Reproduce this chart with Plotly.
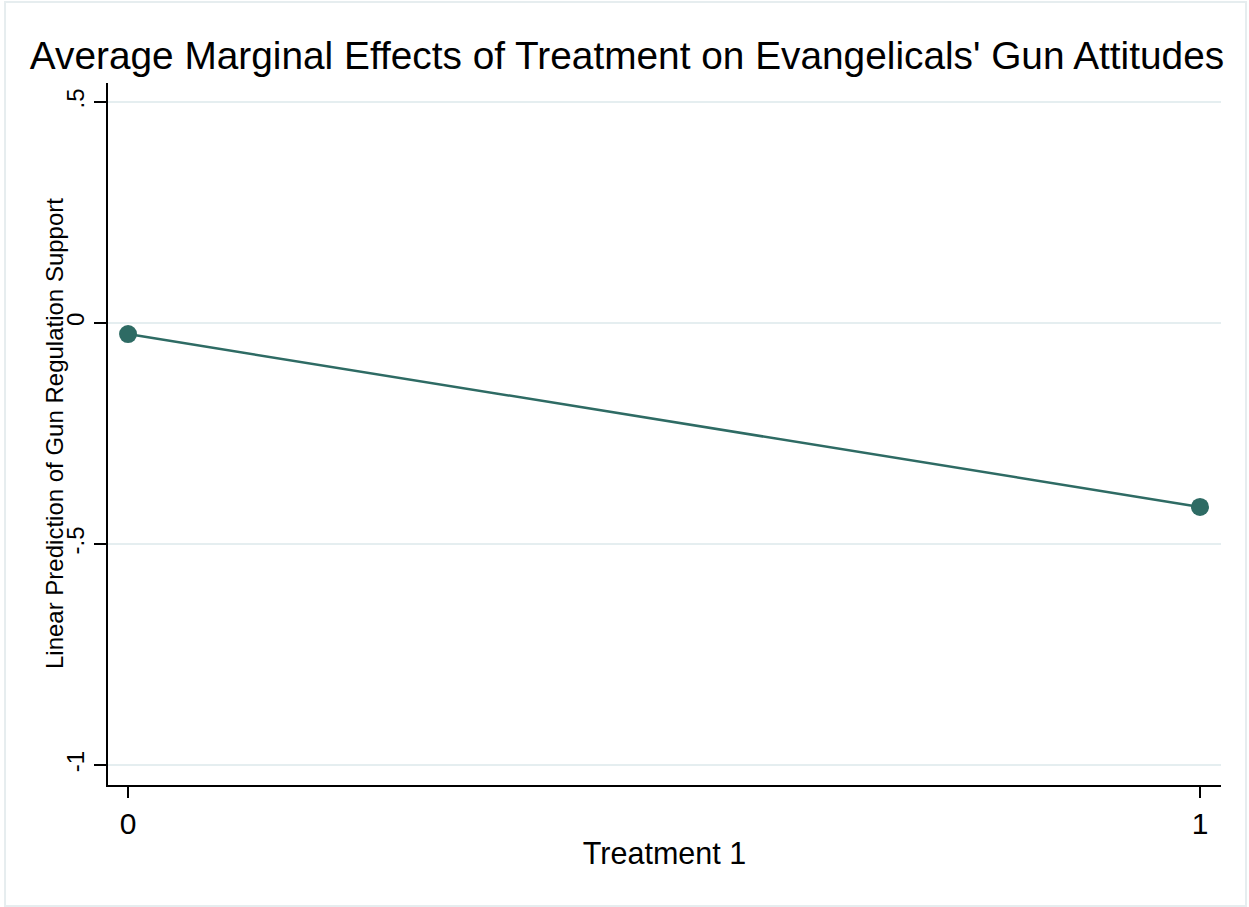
import plotly.graph_objects as go

# Predictive margins by treatment group
treatment = [0, 1]
prediction = [-0.025, -0.416]

y_ticks = [0.5, 0, -0.5, -1]
y_tick_text = [".5", "0", "-.5", "-1"]
x_ticks = [0, 1]
x_tick_text = ["0", "1"]

teal = "#2e6b64"
grid = "#e5eef0"
font_family = "Liberation Sans, Arial, Helvetica, sans-serif"

fig = go.Figure()
fig.add_trace(go.Scatter(
    x=treatment, y=prediction,
    mode="lines+markers",
    line=dict(color=teal, width=2.5),
    marker=dict(color=teal, size=18),
    showlegend=False,
))

fig.update_layout(
    width=1249, height=907,
    margin=dict(l=108, r=28, t=83, b=122),
    paper_bgcolor="white", plot_bgcolor="white",
    font=dict(family=font_family, color="black"),
    title=dict(
        text="Average Marginal Effects of Treatment on Evangelicals' Gun Attitudes",
        x=0.502, xref="container", xanchor="center",
        y=1 - 55 / 907, yref="container", yanchor="middle",
        font=dict(size=38.8, color="black"),
    ),
    xaxis=dict(
        range=[-0.0187, 1.0196],
        tickmode="array", tickvals=x_ticks, ticktext=x_tick_text,
        ticks="outside", ticklen=11, tickwidth=1.5, tickcolor="black",
        tickfont=dict(size=30),
        showline=True, linecolor="black", linewidth=2,
        showgrid=False, zeroline=False,
        title=dict(text="Treatment 1", font=dict(size=30.5), standoff=4),
    ),
    yaxis=dict(
        range=[-1.045, 0.543],
        tickmode="array", tickvals=y_ticks, ticktext=y_tick_text,
        tickangle=-90,
        ticks="outside", ticklen=12, tickwidth=1.5, tickcolor="black",
        tickfont=dict(size=24),
        showline=True, linecolor="black", linewidth=2,
        showgrid=True, gridcolor=grid, gridwidth=2,
        zeroline=False,
    ),
    annotations=[dict(
        text="Linear Prediction of Gun Regulation Support",
        xref="paper", yref="paper", x=-0.0485, y=0.5,
        xanchor="center", yanchor="middle", textangle=-90,
        showarrow=False, font=dict(size=24, color="black"),
    )],
    shapes=[dict(
        type="rect", xref="paper", yref="paper",
        x0=-0.0925, x1=1.0225, y0=-0.1724, y1=1.1154,
        line=dict(color="#e6edef", width=2), layer="below",
    )],
)

fig.write_html("out.html")
